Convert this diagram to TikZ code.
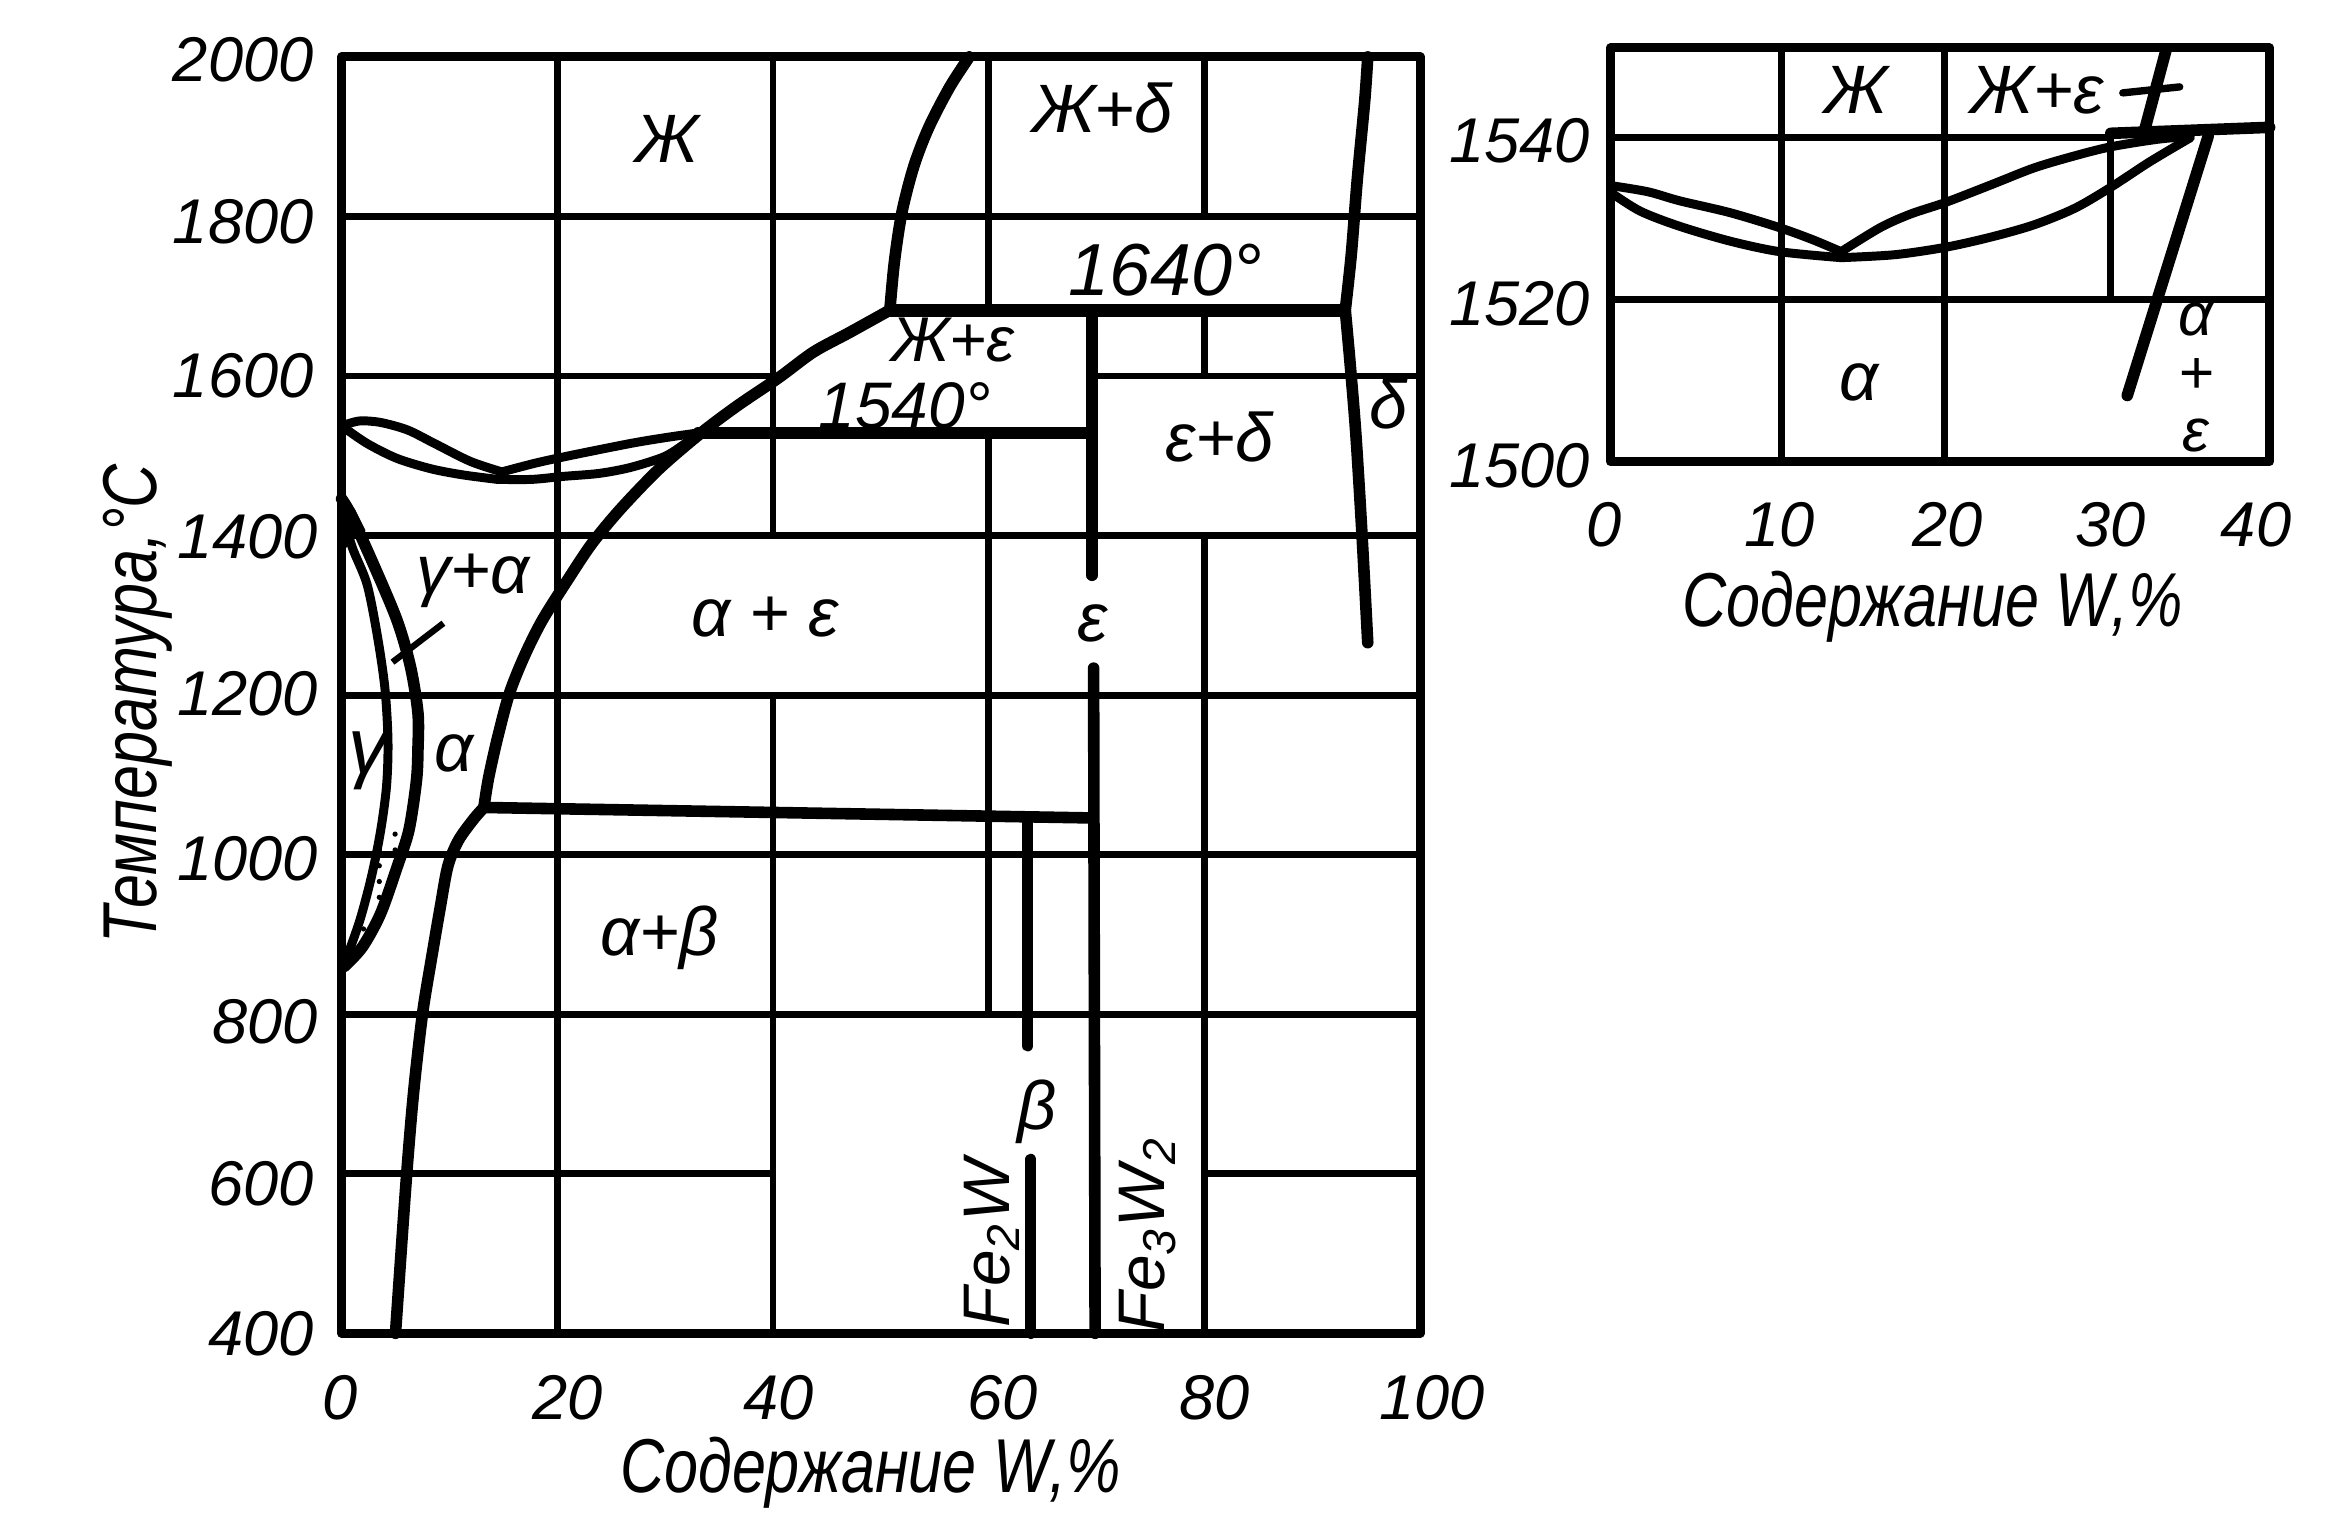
\documentclass[tikz,border=0pt]{standalone}
\usepackage{fontspec}
\setmainfont{Liberation Sans}
\newfontfamily\handn{Liberation Sans}[FakeStretch=0.8]
\usetikzlibrary{patterns}
\begin{document}
\begin{tikzpicture}[x=0.01cm,y=-0.01cm,
  gridl/.style={line width=1.3pt},
  frm/.style={line width=1.7pt, line join=round},
  ph/.style={line width=2.2pt, line cap=round, line join=round},
  lens/.style={line width=1.7pt, line cap=round, line join=round},
  tk/.style={font=\fontsize{12}{14}\selectfont\itshape, inner sep=0pt},
  lbl/.style={font=\fontsize{13}{15}\selectfont\itshape, inner sep=0pt},
  ttl/.style={font=\handn\fontsize{14.5}{16}\selectfont\itshape, inner sep=0pt}]
\useasboundingbox (0,0) rectangle (1568,1021);

% ---------------- main diagram: grid ----------------
\draw[gridl] (228,144.5) -- (948,144.5);
\draw[gridl] (228,251) -- (520,251);
\draw[gridl] (729,251) -- (948,251);
\draw[gridl] (228,357.5) -- (948,357.5);
\draw[gridl] (228,464) -- (948,464);
\draw[gridl] (228,570.5) -- (948,570.5);
\draw[gridl] (228,677) -- (948,677);
\draw[gridl] (228,783.5) -- (516,783.5);
\draw[gridl] (804,783.5) -- (948,783.5);
\draw[gridl] (372,38) -- (372,890);
\draw[gridl] (516,38) -- (516,357.5);
\draw[gridl] (516,464) -- (516,890);
\draw[gridl] (660,38) -- (660,207);
\draw[gridl] (660,289) -- (660,677);
\draw[gridl] (804,38) -- (804,144.5);
\draw[gridl] (804,207) -- (804,251);
\draw[gridl] (804,357.5) -- (804,890);
\draw[frm] (228,38) rectangle (948,890);

% ---------------- main diagram: phase lines ----------------
\draw[ph] plot[smooth] coordinates {(594,207) (597,175) (602,142) (610,111) (620,85) (634,58) (647,38)};
\draw[line width=2.5pt] (594,207) -- (898,207);
\draw[ph] plot[smooth] coordinates {(913,38) (911,67) (906,120) (902,170) (898,207)};
\draw[ph] plot[smooth] coordinates {(898,207) (901,240) (905,289) (909,354) (913,429)};
\draw[ph] plot[smooth] coordinates {(594,207) (567,222) (543,235) (520,252) (492,271) (468,289) (440,313) (414,340) (395,363) (379,387) (362,414) (350,438) (340,463) (332,493) (326,520) (323,539)};
\draw[ph] (466,289) -- (729,289);
\draw[lens] plot[smooth] coordinates {(229,284) (240,281) (254,282) (272,287) (290,296) (314,308) (335,315)};
\draw[lens] plot[smooth] coordinates {(229,285) (245,296) (265,306) (288,313) (309,317) (332,320)};
\draw[lens] plot[smooth] coordinates {(335,315) (358,309) (381,304) (421,296) (445,292) (466,289)};
\draw[lens] plot[smooth] coordinates {(332,320) (355,320) (376,318) (400,316) (421,312) (443,305) (456,297) (466,289)};
% gamma loop
\fill (228,330) -- (237,340) -- (244,354) -- (236,360) -- (229,368) -- cycle;
\fill[pattern=dots] (273,554) -- (265,579) -- (254,610) -- (242,632) -- (230,645) -- (240,615) -- (248,585) -- (254,555) -- cycle;
\draw[ph] plot[smooth] coordinates {(228,333) (234,343) (249,376) (265,414) (274,445) (279,476) (279,500) (278,521) (273,554) (265,579) (254,610) (242,632) (230,645)};
\draw[lens] plot[smooth] coordinates {(228,340) (235,365) (245,390) (252,425) (257,460) (259,495) (258,525) (254,555) (248,585) (240,615) (230,643)};
\coordinate (lead1) at (296,416);
\coordinate (lead2) at (262,442);
\draw[line width=1.2pt] (lead1) -- (lead2);
\draw[ph] plot[smooth] coordinates {(323,539) (316,547) (306,561) (299,578) (294,605) (288,640) (282,677) (276,730) (271,790) (264,890)};
\draw[ph] (323,539) -- (729,546);
\draw[ph] (686,546) -- (686,698);
\draw[ph] (688,774) -- (688,890);
\draw[ph] (729,207) -- (729,384);
\draw[ph] (730,446) -- (731,890);

% ---------------- main diagram: labels ----------------
\node[lbl] (lZh) at (445,93) {Ж};
\node[lbl] (lZhd) at (736,72) {Ж+δ};
\node[lbl,font=\fontsize{14}{16}\selectfont\itshape] (l1640) at (778,180) {1640°};
\node[lbl,font=\fontsize{12}{14}\selectfont\itshape] (lZhe) at (636,227) {Ж+ε};
\node[lbl,font=\fontsize{12.5}{14}\selectfont\itshape] (l1540) at (604,271) {1540°};
\node[lbl] (led) at (814,292) {ε+δ};
\node[lbl] (ld) at (927,270) {δ};
\node[lbl] (lga) at (316,388) {γ+α};
\node[lbl] (lae) at (511,412) {α + ε};
\node[lbl] (le) at (729,416) {ε};
\node[lbl,font=\fontsize{15}{17}\selectfont\itshape] (lg) at (246,508) {γ};
\node[lbl] (la) at (303,503) {α};
\node[lbl] (lab) at (440,626) {α+β};
\node[lbl] (lb) at (692,742) {β};
\node[lbl,rotate=90,font=\fontsize{12.5}{15}\selectfont\itshape] (lFe2W) at (662,830) {Fe\textsubscript{2}W};
\node[lbl,rotate=90,font=\fontsize{12.5}{15}\selectfont\itshape] (lFe3W2) at (766,824) {Fe\textsubscript{3}W\textsubscript{2}};

% axes
\node[tk,anchor=east] (y2000) at (210,40) {2000};
\node[tk,anchor=east] (y1800) at (210,148) {1800};
\node[tk,anchor=east] (y1600) at (210,251) {1600};
\node[tk,anchor=east] (y1400) at (213,358) {1400};
\node[tk,anchor=east] (y1200) at (213,463) {1200};
\node[tk,anchor=east] (y1000) at (213,573) {1000};
\node[tk,anchor=east] (y800) at (213,682) {800};
\node[tk,anchor=east] (y600) at (210,790) {600};
\node[tk,anchor=east] (y400) at (210,890) {400};
\node[tk] (x0) at (227,933) {0};
\node[tk] (x20) at (379,933) {20};
\node[tk] (x40) at (520,933) {40};
\node[tk] (x60) at (669,933) {60};
\node[tk] (x80) at (811,933) {80};
\node[tk] (x100) at (956,933) {100};
\node[ttl,rotate=90] (ytitle) at (92,470) {Температура,°C};
\node[ttl] (xtitle) at (581,983) {Содержание W,\%};

% ---------------- inset ----------------
\draw[gridl] (1075,92) -- (1409,92);
\draw[gridl] (1075,200) -- (1515,200);
\draw[gridl] (1189,32) -- (1189,308);
\draw[gridl] (1298,32) -- (1298,308);
\draw[gridl] (1409,92) -- (1409,200);
\draw[frm] (1075,32) rectangle (1515,308);
\draw[ph] (1409,89) -- (1515,85);
\draw[lens] plot[smooth] coordinates {(1076,124) (1100,128) (1121,134) (1155,142) (1188,152) (1210,160) (1229,168)};
\draw[lens] plot[smooth] coordinates {(1076,129) (1095,141) (1121,151) (1155,161) (1188,168) (1229,172)};
\draw[lens] plot[smooth] coordinates {(1229,168) (1255,152) (1275,143) (1299,135) (1330,123) (1358,112) (1385,104) (1409,98) (1440,93) (1462,91)};
\draw[lens] plot[smooth] coordinates {(1229,172) (1265,170) (1299,165) (1330,158) (1358,150) (1385,139) (1409,125) (1435,108) (1462,92)};
\draw[ph] (1474,91) -- (1420,264);
\draw[ph] (1446,33) -- (1431,89);
\coordinate (dash1) at (1417,62);
\coordinate (dash2) at (1455,58);
\draw[line width=1.4pt, line cap=round] (dash1) -- (dash2);

\node[lbl] (iZh) at (1239,60) {Ж};
\node[lbl] (iZhe) at (1360,60) {Ж+ε};
\node[lbl] (ia) at (1241,255) {α};
\node[lbl,align=center,font=\fontsize{11.5}{11}\selectfont\itshape] (iae) at (1466,252) {α\\+\\ε};
\node[tk,anchor=east] (i1540) at (1062,94) {1540};
\node[tk,anchor=east] (i1520) at (1062,203) {1520};
\node[tk,anchor=east] (i1500) at (1062,311) {1500};
\node[tk] (ix0) at (1071,350) {0};
\node[tk] (ix10) at (1188,350) {10};
\node[tk] (ix20) at (1300,350) {20};
\node[tk] (ix30) at (1409,350) {30};
\node[tk] (ix40) at (1506,350) {40};
\node[ttl] (ititle) at (1290,405) {Содержание W,\%};
\end{tikzpicture}
\end{document}
